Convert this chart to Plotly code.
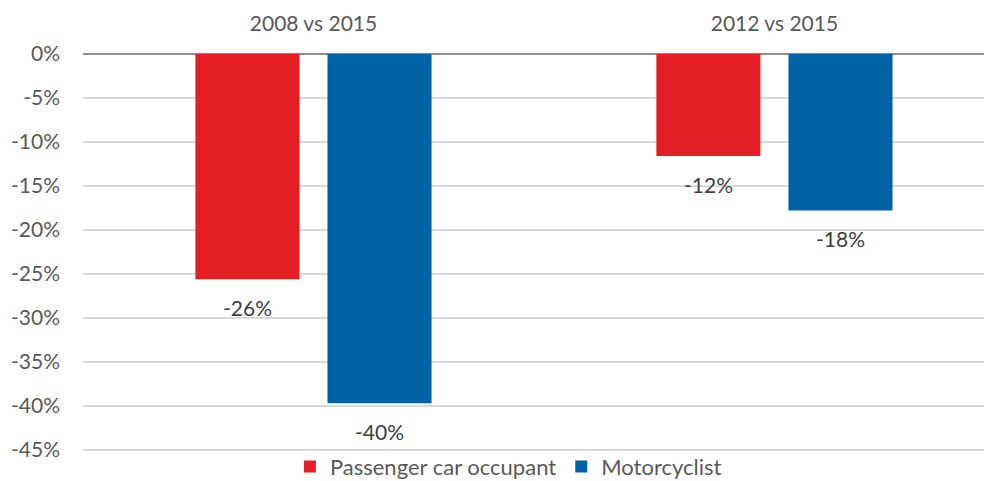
import plotly.graph_objects as go

categories = ["2008 vs 2015", "2012 vs 2015"]
passenger_car = [-25.6, -11.6]
motorcyclist = [-39.7, -17.8]
y_ticks = [0, -5, -10, -15, -20, -25, -30, -35, -40, -45]

series = [
    ("Passenger car occupant", passenger_car, "#E31E24", -66),
    ("Motorcyclist", motorcyclist, "#0063A6", 66),
]

def label(v):
    return f"-{abs(round(v))}%"

fig = go.Figure()
for name, vals, color, shift in series:
    fig.add_trace(go.Bar(name=name, x=categories, y=vals,
                         marker=dict(color=color, line=dict(width=0))))
    for c, v in zip(categories, vals):
        fig.add_annotation(x=c, y=v, xref="x", yref="y", text=label(v),
                           showarrow=False, xshift=shift, yshift=-28,
                           xanchor="center", yanchor="middle",
                           font=dict(size=21, color="#404040"))

# page body has an 8px default margin, so the figure is sized to fill the rest
fig.update_layout(
    width=984, height=473,
    margin=dict(l=75, r=0, t=46, b=29, autoexpand=False),
    paper_bgcolor="white", plot_bgcolor="white",
    font=dict(family="Lato, Open Sans, sans-serif", color="#595959", size=21),
    barmode="group", bargap=0.427, bargroupgap=0.212,
    showlegend=True,
    legend=dict(orientation="h", x=0.468, xanchor="center",
                yref="container", y=0.03, yanchor="middle",
                font=dict(size=22, color="#595959"), itemwidth=30,
                bgcolor="rgba(0,0,0,0)"),
    xaxis=dict(side="top", showgrid=False, showline=False, ticks="",
               range=[-0.5, 1.472], automargin=False,
               tickfont=dict(size=21, color="#595959"), ticklabelstandoff=18),
    yaxis=dict(range=[-45.25, 0], tickvals=y_ticks,
               ticktext=[f"{v}%" if v == 0 else f"-{abs(v)}%" for v in y_ticks],
               showgrid=True, gridcolor="#D9D9D9", gridwidth=2,
               zeroline=True, zerolinecolor="#8C8C8C", zerolinewidth=2,
               showline=False, ticks="", ticklabelstandoff=22, automargin=False,
               tickfont=dict(size=21, color="#595959")),
)

fig.write_html("out.html")
